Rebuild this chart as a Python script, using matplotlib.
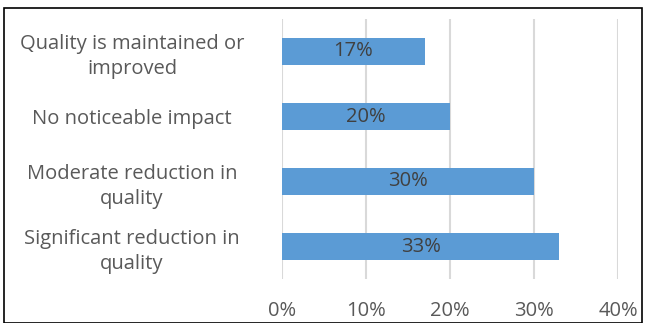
import matplotlib
matplotlib.use("Agg")
import matplotlib.pyplot as plt
from matplotlib.patches import Rectangle

categories = ["Quality is maintained or\nimproved", "No noticeable impact",
              "Moderate reduction in\nquality", "Significant reduction in\nquality"]
values = [17, 20, 30, 33]
xticks = [0, 10, 20, 30, 40]
xticklabels = ["0%", "10%", "20%", "30%", "40%"]

plt.rcParams['font.family'] = ['Open Sans', 'DejaVu Sans']

W, H = 646, 323
fig = plt.figure(figsize=(W / 100, H / 100), dpi=100)
ax = fig.add_axes([282 / W, 1 - 279 / H, (618 - 282) / W, (279 - 19) / H])

bar_color = "#5B9BD5"
ypos = list(range(len(categories)))
ax.barh(ypos, values, height=0.42, color=bar_color, zorder=3)
ax.set_ylim(len(categories) - 0.5, -0.5)
ax.set_xlim(0, 40)

for y, v in zip(ypos, values):
    ax.text(v / 2, y, f"{v}%", ha="center", va="center", fontsize=14.5,
            color="#404040", zorder=4)

ax.set_xticks(xticks)
ax.set_xticklabels(xticklabels, fontsize=14.5, color="#595959")
ax.set_yticks(ypos)
ax.set_yticklabels(categories, fontsize=14.5, color="#595959", ha="center",
                   linespacing=1.32)
ax.tick_params(axis="y", length=0, pad=108)
ax.tick_params(axis="x", length=0, pad=16)
ax.grid(axis="x", color="#D9D9D9", linewidth=1.5, zorder=0)
for s in ax.spines.values():
    s.set_visible(False)

fig.patches.append(Rectangle((4 / W, 0), (642 - 4) / W, 1 - 8 / H,
                             transform=fig.transFigure, fill=False,
                             edgecolor="black", linewidth=1.2))

fig.savefig("out.png", dpi=100)
